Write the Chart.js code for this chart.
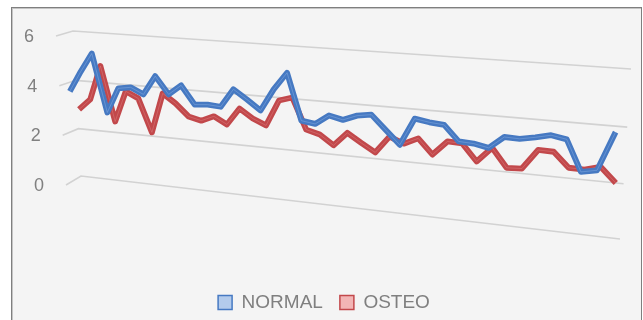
<!DOCTYPE html>
<html>
<head>
<meta charset="utf-8">
<script src="https://cdn.jsdelivr.net/npm/chart.js@4.4.1/dist/chart.umd.min.js"></script>
<style>
  html, body { margin: 0; padding: 0; background: #fff; overflow: hidden; width: 643px; height: 320px; }
  #frame {
    position: absolute; left: 11px; top: 7px; width: 631px; height: 400px;
    box-sizing: border-box; background: #f4f4f4;
    border: 1px solid #7f7f7f; box-shadow: inset 1px 1px 0 #c4c4c4;
  }
  #chart { position: absolute; left: 0; top: 0; }
</style>
</head>
<body>
<div id="frame"></div>
<canvas id="chart" width="643" height="322"></canvas>
<script>
// ── data ──────────────────────────────────────
const days = Array.from({ length: 40 }, (_, i) => String(i + 1));

const normal = [3.78, 4.61, 5.37, 3.08, 4.09, 4.18, 3.95, 4.71, 4.05, 4.45,
                3.75, 3.80, 3.77, 4.49, 4.15, 3.78, 4.63, 5.30, 3.55, 3.48,
                3.85, 3.74, 3.95, 4.04, 3.53, 3.03, 4.05, 3.97, 3.93, 3.38,
                3.36, 3.26, 3.71, 3.70, 3.81, 3.94, 3.85, 2.75, 2.87, 4.27];

const osteo = [2.90, 3.36, 4.75, 2.55, 3.82, 3.58, 2.26, 3.87, 3.52, 3.05,
               2.93, 3.15, 2.88, 3.55, 3.21, 2.99, 4.00, 4.16, 2.98, 2.84,
               2.48, 3.01, 2.68, 2.37, 3.02, 2.81, 3.06, 2.51, 3.05, 3.03,
               2.42, 2.98, 2.30, 2.33, 3.06, 3.05, 2.53, 2.52, 2.68, 2.16];

const yMin = 0, yMax = 6, yStep = 2;

// ── 3D look: map the flat chart area onto perspective planes ──
// corners: bottom-left, bottom-right, top-right, top-left
function quadMap(p) {
    const [x0, y0] = p[0], [x1, y1] = p[1], [x2, y2] = p[2], [x3, y3] = p[3];
    const dx1 = x1 - x2, dx2 = x3 - x2, dx3 = x0 - x1 + x2 - x3;
    const dy1 = y1 - y2, dy2 = y3 - y2, dy3 = y0 - y1 + y2 - y3;
    const det = dx1 * dy2 - dx2 * dy1;
    const g = (dx3 * dy2 - dx2 * dy3) / det, h = (dx1 * dy3 - dx3 * dy1) / det;
    const a = x1 - x0 + g * x1, b = x3 - x0 + h * x3;
    const d = y1 - y0 + g * y1, e = y3 - y0 + h * y3;
    return (u, w) => {
        const den = g * u + h * w + 1;
        return { x: (a * u + b * w + x0) / den, y: (d * u + e * w + y0) / den };
    };
}

const backWall = quadMap([[81, 176], [620, 239], [631, 69], [73, 31]]);
const frontPlane = quadMap([[69.75, 182.75], [616, 252.5], [627, 82.5], [60.25, 34.75]]);
const rearPlane = quadMap([[77.25, 178.25], [620, 243.5], [631, 73.5], [68.75, 32.25]]);
const sideEdge = w => ({ x: 66 - 10 * w, y: 185 - 149 * w });

const perspective = {
    id: 'perspective',
    afterDatasetsUpdate(chart) {
        const area = chart.chartArea;
        chart.data.datasets.forEach((ds, di) => {
            const plane = ds.plane === 'front' ? frontPlane : rearPlane;
            chart.getDatasetMeta(di).data.forEach(pt => {
                const u = (pt.x - area.left) / (area.right - area.left);
                const w = (area.bottom - pt.y) / (area.bottom - area.top);
                const q = plane(u, w);
                pt.x = q.x;
                pt.y = q.y;
            });
        });
    },
    beforeDatasetsDraw(chart) {
        const { ctx } = chart;
        const ys = chart.scales.y;
        ctx.save();
        ctx.strokeStyle = '#d2d2d2';
        ctx.lineWidth = 1.6;
        ctx.fillStyle = '#808080';
        ctx.font = '18px "Liberation Sans", Arial, sans-serif';
        ctx.textAlign = 'right';
        ctx.textBaseline = 'middle';
        ys.ticks.forEach(t => {
            const w = (ys.bottom - ys.getPixelForValue(t.value)) / (ys.bottom - ys.top);
            const f = sideEdge(w), k = backWall(0, w), r = backWall(1, w);
            ctx.beginPath();
            ctx.moveTo(f.x, f.y);
            ctx.lineTo(k.x, k.y);
            ctx.lineTo(r.x, r.y);
            ctx.stroke();
            ctx.fillText(t.label, f.x - 22, f.y + 1);
        });
        ctx.restore();
    }
};

// ── chart ─────────────────────────────────────
const line = (label, data, color, width, plane) => ({
    label, data, plane,
    borderColor: color, borderWidth: width,
    borderJoinStyle: 'round', borderCapStyle: 'butt',
    pointRadius: 0, tension: 0, fill: false, clip: false
});

new Chart(document.getElementById('chart'), {
    type: 'line',
    data: {
        labels: days,
        datasets: [
            line('', normal, 'rgba(140,178,228,0.45)', 1, 'front'),
            line('NORMAL', normal, '#4679c2', 5.8, 'front'),
            line('', osteo, 'rgba(222,130,130,0.45)', 1, 'rear'),
            line('OSTEO', osteo, '#c2484b', 5.8, 'rear')
        ]
    },
    options: {
        responsive: false,
        animation: false,
        events: [],
        layout: { padding: { left: 5, right: 0, top: 40, bottom: 0 } },
        scales: {
            x: { display: false, offset: true },
            y: {
                min: yMin, max: yMax,
                ticks: { stepSize: yStep, display: false },
                grid: { display: false },
                border: { display: false }
            }
        },
        plugins: {
            tooltip: { enabled: false },
            legend: {
                position: 'bottom',
                labels: {
                    boxWidth: 14, boxHeight: 14, padding: 17,
                    color: '#7f7f7f',
                    font: { size: 19, family: '"Liberation Sans", Arial, sans-serif' },
                    generateLabels: () => [
                        { text: 'NORMAL', fillStyle: '#b3cbec', strokeStyle: '#4679c2', lineWidth: 1.5, fontColor: '#7f7f7f', datasetIndex: 1 },
                        { text: 'OSTEO', fillStyle: '#f2b5b5', strokeStyle: '#c2484b', lineWidth: 1.5, fontColor: '#7f7f7f', datasetIndex: 3 }
                    ]
                }
            }
        }
    },
    plugins: [perspective]
});
</script>
</body>
</html>
